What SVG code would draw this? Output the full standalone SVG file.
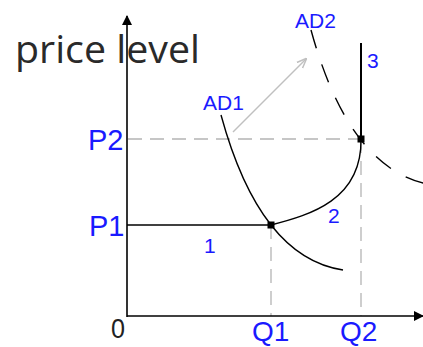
<svg xmlns="http://www.w3.org/2000/svg" width="423" height="347" viewBox="0 0 423 347">
<style>
.blue{fill:#1a1aff;font-family:"Liberation Sans",Arial,sans-serif}
.big{font-size:29px}
.sm{font-size:21px}
.ax{stroke:#000;stroke-width:1.6;fill:none}
.cv{stroke:#000;stroke-width:1.4;fill:none}
.dg{stroke:#b4b4b4;stroke-width:1.3;stroke-dasharray:14 8;fill:none}
</style>
<defs>
<marker id="ah" markerWidth="10" markerHeight="10" refX="9" refY="5" orient="auto" markerUnits="userSpaceOnUse">
<path d="M0,0 L10,5 L0,10 Z" fill="#000"/>
</marker>
<marker id="gh" markerWidth="10" markerHeight="10" refX="9" refY="5" orient="auto" markerUnits="userSpaceOnUse">
<path d="M0,1 L10,5 L0,9" fill="none" stroke="#c0c0c0" stroke-width="1.5"/>
</marker>
</defs>
<rect width="423" height="347" fill="#fff"/>
<g id="title">
<text x="15" y="63" font-family="'Open Sans','DejaVu Sans',sans-serif" font-size="39" fill="#2a2a2a" textLength="185" lengthAdjust="spacingAndGlyphs">price level</text>
</g>
<g id="guides">
<line class="dg" x1="128" y1="139" x2="361" y2="139"/>
<line class="dg" x1="271" y1="225" x2="271" y2="316"/>
<line class="dg" x1="361" y1="139" x2="361" y2="316"/>
</g>
<g id="connectors">
<line class="ax" x1="127" y1="317" x2="127" y2="16" marker-end="url(#ah)"/>
<line class="ax" x1="127" y1="316" x2="423" y2="316" marker-end="url(#ah)"/>
<line x1="233" y1="132" x2="306" y2="59" stroke="#c0c0c0" stroke-width="1.4" marker-end="url(#gh)"/>
<path id="ad1" class="cv" d="M221,115 Q260,257.5 343,270"/>
<path id="ad2" class="cv" d="M311,30 Q350,172.5 433,185" stroke-dasharray="19 17"/>
<line class="cv" x1="127" y1="225" x2="271" y2="225"/>
<path class="cv" d="M271,225 C310,215 362,200 361,139"/>
<line x1="361" y1="43" x2="361" y2="139" stroke="#000" stroke-width="2"/>
</g>
<g id="points">
<rect x="267.5" y="221.5" width="7" height="7" fill="#000"/>
<rect x="357.5" y="135.5" width="7" height="7" fill="#000"/>
</g>
<g id="labels">
<text class="blue big" x="88" y="150">P2</text>
<text class="blue big" x="89" y="236">P1</text>
<text class="blue" font-size="28" x="252" y="341">Q1</text>
<text class="blue" font-size="28" x="340" y="341">Q2</text>
<text x="111" y="338" font-family="'Liberation Sans',Arial,sans-serif" font-size="27" fill="#222" textLength="14" lengthAdjust="spacingAndGlyphs">0</text>
<text class="blue sm" x="203" y="110">AD1</text>
<text class="blue sm" x="295" y="28">AD2</text>
<text class="blue sm" x="367" y="68">3</text>
<text class="blue sm" x="328" y="223">2</text>
<text class="blue sm" x="204" y="253">1</text>
</g>
</svg>
